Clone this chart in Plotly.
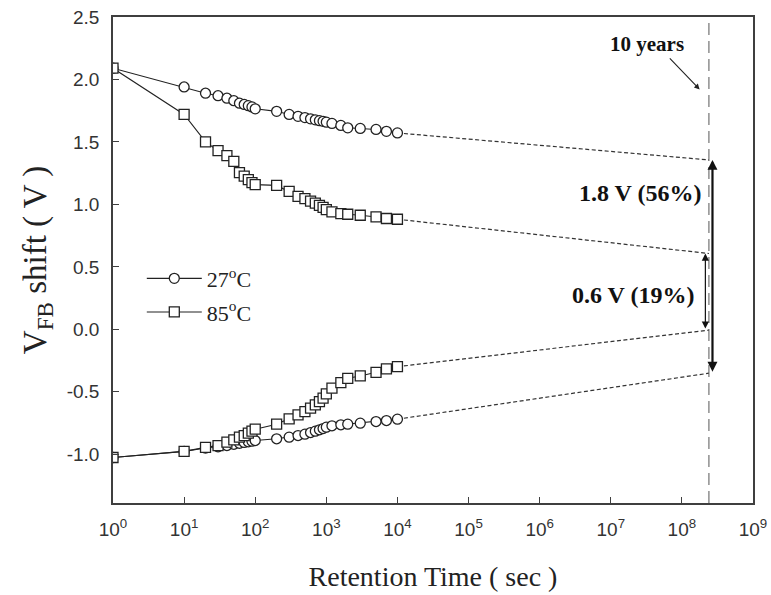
import numpy as np
import plotly.graph_objects as go

# Retention measurement times (s)
times = [1, 10, 20, 30, 40, 50, 60, 70, 80, 90, 100, 200, 300, 400, 500, 600,
         700, 800, 900, 1000, 1200, 1600, 2000, 3000, 5000, 7000, 10000]

# Flat-band voltage shift (V), programmed and erased states
prog_27 = [2.09, 1.94, 1.89, 1.87, 1.85, 1.83, 1.81, 1.80, 1.79, 1.78, 1.765,
           1.745, 1.72, 1.705, 1.695, 1.685, 1.677, 1.67, 1.665, 1.658, 1.648,
           1.632, 1.613, 1.608, 1.60, 1.585, 1.572]
erase_27 = [-1.026, -0.977, -0.95, -0.94, -0.93, -0.92, -0.912, -0.905, -0.90,
            -0.895, -0.89, -0.876, -0.863, -0.85, -0.839, -0.826, -0.815, -0.804,
            -0.794, -0.783, -0.772, -0.764, -0.759, -0.751, -0.738, -0.73, -0.719]
prog_85 = [2.09, 1.72, 1.50, 1.43, 1.39, 1.345, 1.255, 1.227, 1.198, 1.174,
           1.158, 1.152, 1.105, 1.065, 1.046, 1.027, 1.011, 0.993, 0.977, 0.958,
           0.94, 0.926, 0.921, 0.913, 0.90, 0.887, 0.881]
erase_85 = [-1.026, -0.977, -0.945, -0.93, -0.903, -0.884, -0.863, -0.85, -0.831,
            -0.815, -0.799, -0.759, -0.716, -0.684, -0.658, -0.631, -0.605, -0.578,
            -0.551, -0.517, -0.471, -0.427, -0.392, -0.373, -0.344, -0.317, -0.299]

# Extrapolated values at the 10-year mark
t_10y = 2.4e8
ext_prog_27, ext_prog_85, ext_erase_85, ext_erase_27 = 1.356, 0.607, -0.006, -0.351

# Axis ticks
x_exponents = list(range(0, 10))
y_ticks = [2.5, 2.0, 1.5, 1.0, 0.5, 0.0, -0.5, -1.0]

SERIF = "Liberation Serif"
SANS = "Liberation Sans"
AXIS_COLOR = "#3f3f3f"

fig = go.Figure()

# Dotted extrapolation lines to 10 years
for last, ext in [(prog_27[-1], ext_prog_27), (prog_85[-1], ext_prog_85),
                  (erase_85[-1], ext_erase_85), (erase_27[-1], ext_erase_27)]:
    fig.add_trace(go.Scatter(
        x=[times[-1], t_10y], y=[last, ext], mode="lines",
        line=dict(color="#333333", width=1.2, dash="4px,2.5px"),
        showlegend=False, hoverinfo="skip"))

# 10-year marker line
fig.add_trace(go.Scatter(
    x=[t_10y, t_10y], y=[-1.39, 2.5], mode="lines",
    line=dict(color="#555555", width=1, dash="12px,6px"),
    showlegend=False, hoverinfo="skip"))

# Measured data: 27 C (circles) and 85 C (squares)
fig.add_trace(go.Scatter(
    x=times + [None] + times, y=prog_27 + [None] + erase_27,
    mode="lines+markers", name="27<sup>o</sup>C", legendgroup="a",
    line=dict(color="#222222", width=1.1),
    marker=dict(symbol="circle", size=10, color="white",
                line=dict(color="#222222", width=1.3))))
fig.add_trace(go.Scatter(
    x=times + [None] + times, y=prog_85 + [None] + erase_85,
    mode="lines+markers", name="85<sup>o</sup>C", legendgroup="b",
    line=dict(color="#222222", width=1.1),
    marker=dict(symbol="square", size=10, color="white",
                line=dict(color="#222222", width=1.3))))

lx = np.log10(t_10y)
annotations = [
    # memory window arrows
    dict(x=lx + 0.05, y=ext_prog_27, ax=lx + 0.05, ay=ext_erase_27,
         xref="x", yref="y", axref="x", ayref="y", text="",
         showarrow=True, arrowside="end+start", arrowhead=2, arrowsize=0.9,
         arrowwidth=2.2, arrowcolor="#111111", standoff=0, startstandoff=0),
    dict(x=lx - 0.05, y=ext_prog_85, ax=lx - 0.05, ay=ext_erase_85,
         xref="x", yref="y", axref="x", ayref="y", text="",
         showarrow=True, arrowside="end+start", arrowhead=2, arrowsize=1.2,
         arrowwidth=1.2, arrowcolor="#111111", standoff=0, startstandoff=0),
    dict(x=8.3, y=1.088, xref="x", yref="y", xanchor="right", yanchor="middle",
         text="<b>1.8 V (56%)</b>", showarrow=False,
         font=dict(family=SERIF, size=24, color="#111111")),
    dict(x=8.2, y=0.274, xref="x", yref="y", xanchor="right", yanchor="middle",
         text="<b>0.6 V (19%)</b>", showarrow=False,
         font=dict(family=SERIF, size=24, color="#111111")),
    # 10-year label and pointer
    dict(x=7.51, y=2.285, xref="x", yref="y", text="<b>10 years</b>",
         showarrow=False, font=dict(family=SERIF, size=21, color="#111111")),
    dict(x=8.25, y=1.92, ax=7.81, ay=2.18, xref="x", yref="y",
         axref="x", ayref="y", text="", showarrow=True, arrowhead=2,
         arrowsize=1, arrowwidth=1.1, arrowcolor="#222222", standoff=0),
]

fig.update_layout(
    width=771, height=595,
    margin=dict(l=113, r=18, t=17, b=92),
    paper_bgcolor="white", plot_bgcolor="white",
    annotations=annotations,
    showlegend=True,
    legend=dict(x=0.045, y=0.505, xanchor="left", yanchor="top",
                bgcolor="rgba(0,0,0,0)", tracegroupgap=2, itemwidth=55,
                font=dict(family=SERIF, size=22, color="#222222")),
    xaxis=dict(
        type="log", range=[0, 9], automargin=False,
        tickvals=[10 ** e for e in x_exponents],
        ticktext=[f"10<sup>{e}</sup>" for e in x_exponents],
        ticks="inside", ticklen=6, tickwidth=1.2, tickcolor=AXIS_COLOR,
        showline=True, linecolor=AXIS_COLOR, linewidth=1.5, mirror=True,
        showgrid=False, zeroline=False, ticklabelstandoff=8,
        tickfont=dict(family=SANS, size=19, color="#333333"),
        title=dict(text="Retention Time ( sec )", standoff=28,
                   font=dict(family=SERIF, size=28, color="#222222"))),
    yaxis=dict(
        range=[-1.39, 2.5], tickvals=y_ticks, automargin=False,
        ticktext=[f"{v:.1f}" for v in y_ticks],
        ticks="inside", ticklen=6, tickwidth=1.2, tickcolor=AXIS_COLOR,
        showline=True, linecolor=AXIS_COLOR, linewidth=1.5, mirror=True,
        showgrid=False, zeroline=False, ticklabelstandoff=8,
        tickfont=dict(family=SANS, size=19, color="#333333"),
        title=dict(text="V<sub>FB</sub> shift ( V )", standoff=10,
                   font=dict(family=SERIF, size=33, color="#222222"))),
)

fig.write_html("out.html")
